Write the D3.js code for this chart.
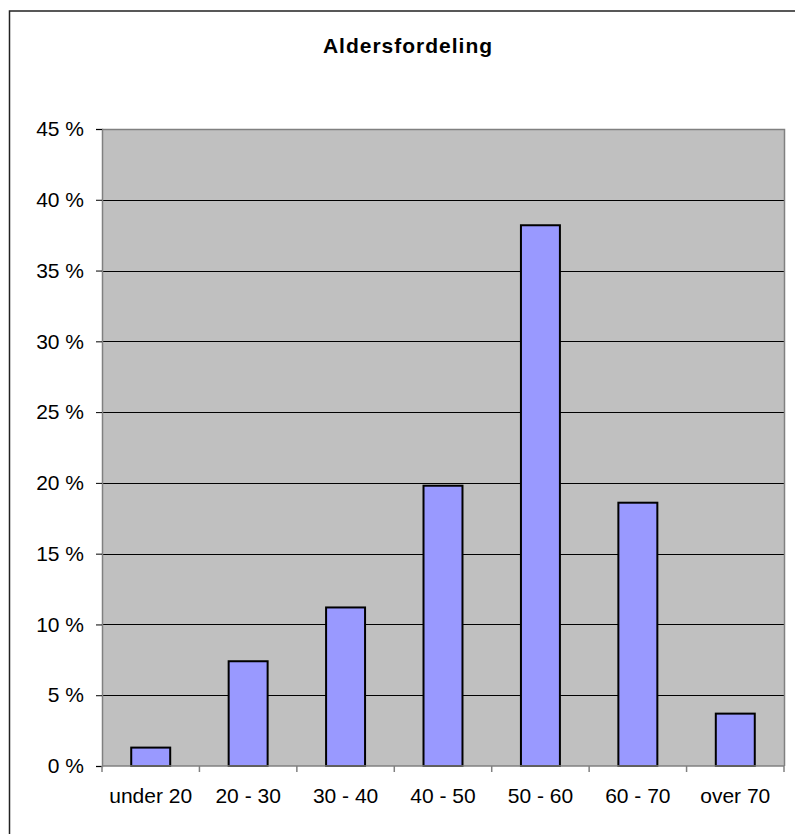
<!DOCTYPE html>
<html>
<head>
<meta charset="utf-8">
<script src="https://cdn.jsdelivr.net/npm/d3@7"></script>
<style>
  html, body { margin: 0; padding: 0; background: #fff; }
  svg { display: block; }
  text { font-family: "Liberation Sans", Arial, sans-serif; fill: #000; }
</style>
</head>
<body>
<svg id="chart" width="795" height="834"></svg>
<script>
const categories = ["under 20", "20 - 30", "30 - 40", "40 - 50", "50 - 60", "60 - 70", "over 70"];
const values = [1.3, 7.4, 11.2, 19.8, 38.2, 18.6, 3.7];
const yTicks = [0, 5, 10, 15, 20, 25, 30, 35, 40, 45];
const yTickLabels = yTicks.map(v => v + " %");
const title = "Aldersfordeling";

const svg = d3.select("#chart");
const plot = { left: 102, right: 784, top: 129, bottom: 766 };

// outer chart border
svg.append("rect")
  .attr("x", 9.5).attr("y", 11)
  .attr("width", 820).attr("height", 840)
  .attr("fill", "#fff").attr("stroke", "#222").attr("stroke-width", 1.5);

// title
svg.append("text")
  .attr("x", 408).attr("y", 53)
  .attr("text-anchor", "middle")
  .attr("font-size", 21).attr("font-weight", "bold")
  .attr("letter-spacing", 1)
  .text(title);

const x = d3.scaleBand().domain(categories).range([plot.left, plot.right]).paddingInner(0.6).paddingOuter(0.3);
const xTickScale = d3.scaleBand().domain(categories).range([plot.left, plot.right]);
const y = d3.scaleLinear().domain([0, 45]).range([plot.bottom, plot.top]);

// plot background
svg.append("rect")
  .attr("x", plot.left).attr("y", plot.top)
  .attr("width", plot.right - plot.left).attr("height", plot.bottom - plot.top)
  .attr("fill", "#C0C0C0");

// gridlines
svg.append("g").selectAll("line")
  .data(yTicks.filter(v => v > 0 && v < 45))
  .join("line")
  .attr("x1", plot.left).attr("x2", plot.right)
  .attr("y1", d => Math.round(y(d)) + 0.5).attr("y2", d => Math.round(y(d)) + 0.5)
  .attr("stroke", "#000").attr("stroke-width", 1);

// plot border (top & right)
svg.append("path")
  .attr("d", `M${plot.left},${plot.top + 0.5}H${plot.right + 0.5}V${plot.bottom}`)
  .attr("fill", "none").attr("stroke", "#808080").attr("stroke-width", 1.5);

// bars
svg.append("g").selectAll("rect")
  .data(values)
  .join("rect")
  .attr("x", (d, i) => x(categories[i]))
  .attr("width", x.bandwidth())
  .attr("y", d => y(d))
  .attr("height", d => y(0) - y(d))
  .attr("fill", "#9999FF")
  .attr("stroke", "#000").attr("stroke-width", 2);

// y axis
const yAxis = d3.axisLeft(y).tickValues(yTicks).tickSize(6).tickPadding(12)
  .tickFormat((d, i) => yTickLabels[i]);
const gy = svg.append("g").attr("transform", `translate(${plot.left},0)`).call(yAxis);
gy.select(".domain").attr("stroke", "#808080").attr("stroke-width", 1.5);
gy.selectAll(".tick line").attr("stroke", "#000");
gy.selectAll(".tick text").attr("font-size", 21).attr("dy", "0.32em")
  .style("font-family", '"Liberation Sans", Arial, sans-serif');

// x axis (ticks at category boundaries)
const gx = svg.append("g").attr("transform", `translate(0,${plot.bottom})`);
gx.append("line")
  .attr("x1", plot.left).attr("x2", plot.right)
  .attr("y1", 0).attr("y2", 0)
  .attr("stroke", "#808080").attr("stroke-width", 1.5);
const boundaries = categories.map(c => xTickScale(c)).concat([plot.right]);
gx.selectAll("line.tk").data(boundaries).join("line").attr("class", "tk")
  .attr("x1", d => d).attr("x2", d => d)
  .attr("y1", 0).attr("y2", 6)
  .attr("stroke", "#808080").attr("stroke-width", 1.5);
gx.selectAll("text").data(categories).join("text")
  .attr("x", d => xTickScale(d) + xTickScale.bandwidth() / 2)
  .attr("y", 37)
  .attr("text-anchor", "middle")
  .attr("font-size", 21)
  .text(d => d);
</script>
</body>
</html>
